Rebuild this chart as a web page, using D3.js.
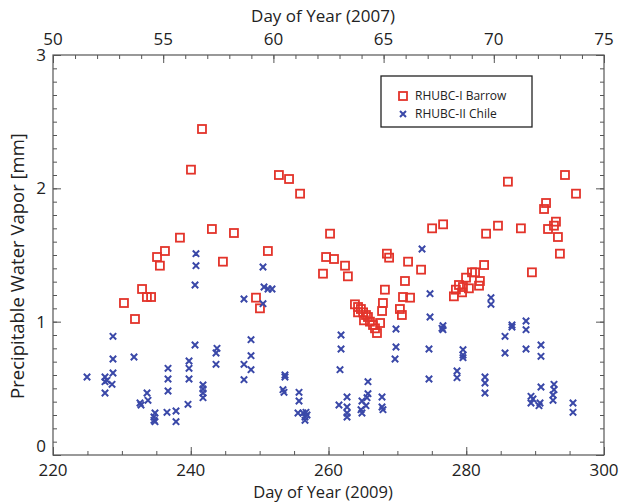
<!DOCTYPE html>
<html><head><meta charset="utf-8">
<script src="https://cdn.jsdelivr.net/npm/d3@7"></script>
<style>body{margin:0;background:#fff}svg{display:block}text{font-family:"Open Sans","Noto Sans",sans-serif;fill:#222}</style>
</head><body><svg id="c" width="620" height="502"></svg>
<script>
// RHUBC-I Barrow (2007, top axis)
const barrowDay = [53.22,53.72,54.04,54.26,54.45,54.72,54.85,55.08,55.76,56.26,56.76,57.21,57.71,58.21,59.21,59.39,59.75,60.25,60.71,61.21,62.25,62.39,62.57,62.75,63.25,63.38,
63.70,63.84,63.97,63.84,64.07,64.20,64.11,64.29,64.38,64.52,64.61,64.70,64.84,64.93,64.97,65.06,65.15,65.25,65.74,65.83,65.88,66.20,65.97,66.11,66.70,67.20,67.70,
68.19,68.28,68.42,68.56,68.60,68.74,68.87,69.01,69.15,69.33,69.37,69.56,69.65,70.19,70.64,71.23,71.73,72.28,72.37,72.46,72.73,72.82,72.91,73.00,73.23,73.73];
const barrowPWV = [1.14,1.02,1.245,1.185,1.185,1.485,1.42,1.53,1.63,2.14,2.445,1.695,1.45,1.665,1.18,1.10,1.53,2.10,2.07,1.96,1.36,1.485,1.66,1.47,1.42,1.34,
1.13,1.11,1.095,1.07,1.07,1.05,1.01,1.035,1.00,0.975,0.95,0.915,0.99,1.08,1.14,1.24,1.51,1.48,1.095,1.05,1.185,1.18,1.305,1.45,1.39,1.70,1.73,
1.19,1.24,1.275,1.22,1.26,1.33,1.25,1.37,1.37,1.27,1.305,1.425,1.66,1.72,2.05,1.70,1.37,1.845,1.89,1.695,1.72,1.75,1.635,1.51,2.10,1.96];
// RHUBC-II Chile (2009, bottom axis)
const chileDay = [224.94,227.55,227.84,227.55,228.71,228.57,227.55,228.71,228.71,231.76,233.65,233.79,232.63,232.78,234.81,234.66,234.66,234.81,236.55,236.70,236.70,236.70,237.86,237.86,
239.60,239.75,239.75,239.75,240.62,240.76,240.76,240.62,241.78,241.78,241.78,241.78,243.81,243.67,243.67,247.73,247.73,247.73,248.75,248.75,248.75,250.49,250.49,250.64,251.22,251.80,
253.68,253.68,253.39,253.54,255.72,255.72,255.57,256.30,256.73,256.59,256.88,256.59,261.82,261.82,261.67,261.52,262.69,262.69,262.69,262.69,265.73,265.73,265.59,264.86,264.72,264.86,265.44,
267.77,267.77,267.91,269.80,269.80,269.66,273.58,274.74,274.74,274.59,274.59,276.62,276.62,276.48,278.66,278.66,279.53,279.53,279.53,282.72,282.72,282.72,283.59,283.59,285.63,285.63,
286.64,286.64,288.68,288.68,288.68,289.40,289.69,289.40,290.71,290.56,290.85,290.85,290.85,292.74,292.74,292.60,292.60,295.50,295.50];
const chilePWV = [0.585,0.585,0.56,0.55,0.615,0.53,0.465,0.72,0.89,0.735,0.465,0.41,0.39,0.375,0.315,0.285,0.26,0.25,0.32,0.65,0.57,0.48,0.33,0.25,
0.38,0.705,0.65,0.57,1.275,1.51,1.42,0.825,0.525,0.495,0.465,0.43,0.80,0.765,0.68,1.17,0.68,0.565,0.865,0.745,0.64,1.41,1.135,1.26,1.245,1.245,
0.60,0.585,0.49,0.47,0.47,0.405,0.315,0.315,0.32,0.285,0.30,0.26,0.90,0.795,0.64,0.375,0.435,0.36,0.315,0.285,0.55,0.46,0.43,0.405,0.34,0.315,0.37,
0.435,0.36,0.34,0.945,0.81,0.72,1.545,1.21,1.035,0.795,0.57,0.97,0.94,0.95,0.63,0.58,0.79,0.75,0.73,0.585,0.54,0.465,1.18,1.13,0.89,0.765,
0.975,0.96,1.005,0.94,0.795,0.44,0.42,0.39,0.39,0.37,0.825,0.74,0.51,0.53,0.49,0.45,0.41,0.39,0.32];
const bottomTicks = [220,240,260,280,300];
const topTicks = [50,55,60,65,70,75];
const yTicks = [0,1,2,3];
const legendLabels = ["RHUBC-I Barrow","RHUBC-II Chile"];

const L=53,R=604,T=55,B=455;
const red="#e3342b", blue="#3a48a8", axisC="#555";
const svg=d3.select("#c");
const xB=d3.scaleLinear().domain([220,300]).range([L,R]);
const xT=d3.scaleLinear().domain([50,75]).range([L,R]);
const y=d3.scaleLinear().domain([0,3]).range([B,T]);

function styleAxis(g){g.select(".domain").remove();g.selectAll("line").attr("stroke",axisC).attr("stroke-width",1);}
// minor ticks
const minorB=d3.range(220,301,5), minorT=d3.range(50,76,1), minorY=d3.range(0,3.001,0.1);
svg.append("g").attr("transform",`translate(0,${B})`).call(d3.axisTop(xB).tickValues(minorB).tickSize(4).tickFormat("")).call(styleAxis);
svg.append("g").attr("transform",`translate(0,${T})`).call(d3.axisBottom(xT).tickValues(minorT).tickSize(4).tickFormat("")).call(styleAxis);
svg.append("g").attr("transform",`translate(${L},0)`).call(d3.axisRight(y).tickValues(minorY).tickSize(4).tickFormat("")).call(styleAxis);
svg.append("g").attr("transform",`translate(${R},0)`).call(d3.axisLeft(y).tickValues(minorY).tickSize(4).tickFormat("")).call(styleAxis);
// major ticks
svg.append("g").attr("transform",`translate(0,${B})`).call(d3.axisTop(xB).tickValues(bottomTicks).tickSize(8).tickFormat("")).call(styleAxis);
svg.append("g").attr("transform",`translate(0,${T})`).call(d3.axisBottom(xT).tickValues(topTicks).tickSize(8).tickFormat("")).call(styleAxis);
svg.append("g").attr("transform",`translate(${L},0)`).call(d3.axisRight(y).tickValues(yTicks).tickSize(8).tickFormat("")).call(styleAxis);
svg.append("g").attr("transform",`translate(${R},0)`).call(d3.axisLeft(y).tickValues(yTicks).tickSize(8).tickFormat("")).call(styleAxis);
// labels
svg.append("g").selectAll("text").data(bottomTicks).join("text").attr("x",d=>xB(d)).attr("y",476).attr("text-anchor","middle").style("font-size","17px").text(d=>d);
svg.append("g").selectAll("text").data(topTicks).join("text").attr("x",d=>xT(d)).attr("y",45).attr("text-anchor","middle").style("font-size","17px").text(d=>d);
svg.append("g").selectAll("text").data(yTicks).join("text").attr("x",46).attr("y",d=>y(d)+(d===0?-3:6)).attr("text-anchor","end").style("font-size","17px").text(d=>d);
svg.append("text").attr("x",323).attr("y",498).attr("text-anchor","middle").style("font-size","16.5px").text("Day of Year (2009)");
svg.append("text").attr("x",323).attr("y",22).attr("text-anchor","middle").style("font-size","17px").text("Day of Year (2007)");
svg.append("text").attr("transform",`translate(24,266) rotate(-90)`).attr("text-anchor","middle").style("font-size","18.5px").text("Precipitable Water Vapor [mm]");
// frame
svg.append("rect").attr("x",L).attr("y",T).attr("width",R-L).attr("height",B-T).attr("fill","none").attr("stroke",axisC).attr("stroke-width",1.2);
// points
const s=4;
svg.append("g").selectAll("rect").data(barrowDay.map((d,i)=>[d,barrowPWV[i]])).join("rect")
 .attr("x",d=>xT(d[0])-s).attr("y",d=>y(d[1])-s).attr("width",2*s).attr("height",2*s)
 .attr("fill","none").attr("stroke",red).attr("stroke-width",1.8);
const c=3.2;
svg.append("g").selectAll("path").data(chileDay.map((d,i)=>[d,chilePWV[i]])).join("path")
 .attr("d",d=>{const px=xB(d[0]),py=y(d[1]);return `M${px-c},${py-c}L${px+c},${py+c}M${px-c},${py+c}L${px+c},${py-c}`;})
 .attr("stroke",blue).attr("stroke-width",2).attr("fill","none");
// legend
const lg=svg.append("g");
lg.append("rect").attr("x",381).attr("y",76).attr("width",151).attr("height",51).attr("fill","#fff").attr("stroke","#222").attr("stroke-width",1.3);
lg.append("rect").attr("x",399).attr("y",92).attr("width",8).attr("height",8).attr("fill","none").attr("stroke",red).attr("stroke-width",1.8);
lg.append("path").attr("d","M400,111L406,117M400,117L406,111").attr("stroke",blue).attr("stroke-width",2);
lg.selectAll("text").data(legendLabels).join("text").attr("x",415).attr("y",(d,i)=>100+i*18).style("font-size","12px").text(d=>d);
</script></body></html>
